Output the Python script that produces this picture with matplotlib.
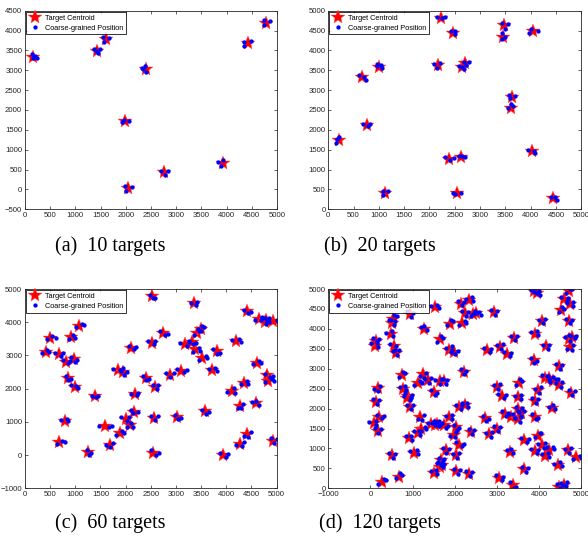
import matplotlib
matplotlib.use("Agg")
import matplotlib.pyplot as plt

# (a) 10 targets: centroids and coarse-grained positions
a_cx = [160, 1420, 1600, 2400, 1990, 2040, 2760, 3920, 4420, 4790]
a_cy = [3330, 3480, 3780, 3030, 1720, 30, 430, 660, 3680, 4200]
a_bx = [130, 200, 230, 150, 1370, 1480, 1450, 1400, 1550, 1670, 1560,
        2320, 2380, 2410, 2350, 1930, 2070, 1960, 1990, 2130, 2010,
        2700, 2840, 2770, 3830, 3930, 3880, 4340, 4480, 4350, 4750, 4870, 4750]
a_by = [3420, 3350, 3310, 3300, 3530, 3530, 3430, 3490, 3830, 3810, 3710,
        3060, 3110, 2950, 3040, 1700, 1720, 1740, 80, 60, -40,
        470, 470, 370, 680, 740, 580, 3720, 3740, 3620, 4260, 4230, 4150]

# (b) 20 targets
b_cx = [220, 760, 660, 1000, 1120, 2160, 2220, 2460, 2380, 2620,
        2540, 2640, 2710, 3480, 3450, 4050, 3630, 3610, 4030, 4450]
b_cy = [1740, 2110, 3320, 3590, 410, 3640, 4820, 4450, 1270, 1310,
        400, 3570, 3690, 4650, 4350, 4480, 2830, 2560, 1460, 290]
b_bx = [180, 220, 160, 690, 830, 790, 610, 710, 740, 960, 1050, 1060, 970,
        1080, 1190, 1090, 2090, 2210, 2140, 2140, 2300, 2250, 2420, 2510, 2510,
        2310, 2480, 2400, 2580, 2700, 2640, 2460, 2620, 2500, 2580, 2650, 2680,
        2680, 2780, 2720, 3440, 3550, 3500, 3430, 3500, 3430, 4000, 4140, 3970,
        3580, 3690, 3590, 3550, 3610, 3650, 3940, 4070, 4080, 4400, 4480, 4510]
b_by = [1770, 1830, 1670, 2150, 2150, 2090, 3370, 3320, 3260, 3670, 3640, 3560, 3620,
        470, 450, 360, 3650, 3680, 3560, 4840, 4850, 4810, 4500, 4500, 4410,
        1320, 1290, 1230, 1340, 1310, 1340, 400, 400, 380, 3620, 3580, 3540,
        3720, 3720, 3640, 4690, 4660, 4550, 4430, 4350, 4290, 4540, 4500, 4450,
        2870, 2860, 2790, 2550, 2650, 2590, 1500, 1480, 1420, 310, 320, 240]

# (c) 60 targets
c_cx = [500, 420, 680, 810, 970, 910, 1070, 850, 990, 800,
        680, 1260, 1390, 1590, 1680, 1880, 1850, 1950, 2000, 2090,
        2160, 2180, 2110, 2400, 2580, 2570, 2550, 2530, 2530, 2750,
        2880, 3090, 3030, 3170, 3380, 3420, 3500, 3350, 3520, 3580,
        3720, 3820, 4110, 4190, 4270, 4350, 4270, 4410, 3930, 4410,
        4580, 4600, 4650, 4760, 4920, 4810, 4830, 4930, 3320, 4780]
c_cy = [3520, 3100, 3040, 2810, 2880, 3560, 3890, 2310, 2040, 1040,
        400, 90, 1780, 880, 290, 670, 2560, 2490, 1100, 910,
        1300, 1840, 3230, 2330, 2060, 1130, 70, 4780, 3380, 3670,
        2420, 2530, 1140, 3340, 3180, 3690, 3810, 4570, 2920, 1320,
        2560, 3120, 1940, 3440, 1470, 2180, 330, 630, 10, 4330,
        1580, 2780, 4100, 4000, 4030, 2410, 2230, 430, 3390, 4080]
# offsets of the coarse-grained positions from each centroid
c_off = [
    [(-60, -30), (40, 60), (110, 0)], [(-90, -40), (20, 60), (60, 0)],
    [(-90, 40), (30, -50), (70, 20)], [(-60, 50), (40, -40), (90, 10)],
    [(-50, 60), (70, -20), (20, -80)], [(-40, -60), (50, 70), (80, -20)],
    [(-60, -40), (60, 60), (110, 20)], [(-40, 80), (60, -30), (0, -60)],
    [(-80, 60), (60, -10), (20, 40)], [(-80, 20), (60, -10), (30, 40)],
    [(-50, -60), (60, 20), (110, 0)], [(-30, 60), (60, -40), (20, -90)],
    [(-60, 10), (70, 0), (30, -40)], [(-120, 10), (80, -30), (140, 10)],
    [(-80, 20), (70, 60), (10, -40)], [(-70, -50), (40, 70), (90, 10)],
    [(-100, 20), (60, -20), (100, 60)], [(-60, 60), (80, 20), (20, -70)],
    [(-90, 50), (60, 40), (30, -60)], [(-60, -50), (60, -60), (20, 60)],
    [(-50, 60), (90, 10), (-20, -40)], [(-80, -10), (70, 40), (40, -40)],
    [(-40, 40), (60, -40), (90, 20)], [(-60, 40), (60, -30), (10, -70)],
    [(-30, 60), (40, -60), (70, 40)], [(-60, 50), (80, 40), (20, -80)],
    [(-50, 70), (60, -70), (110, -20)], [(-50, 50), (60, -40), (10, -60)],
    [(-90, 40), (60, 60), (40, -40)], [(-60, 60), (90, -20), (40, -60)],
    [(-70, 40), (80, 60), (10, -70)], [(-60, 60), (70, -30), (120, 30)],
    [(-40, 60), (60, -20), (10, -60)], [(-100, 40), (40, -70), (80, 50)],
    [(-50, -70), (70, 50), (100, -60)], [(-60, -60), (80, 40), (20, 120)],
    [(-40, -60), (60, 60), (10, 90)], [(-60, 20), (70, 40), (40, -60)],
    [(-60, -70), (80, 70), (100, 10)], [(-60, 40), (80, -30), (20, -80)],
    [(-70, 40), (60, 60), (100, -30)], [(-80, 60), (60, -40), (0, -70)],
    [(-100, -40), (40, 80), (60, -80)], [(-80, 20), (60, 50), (100, -30)],
    [(-40, -40), (60, 60), (20, -60)], [(-50, -50), (70, 60), (90, -30)],
    [(-70, -40), (90, 50), (40, -60)], [(-60, -40), (80, 70), (30, -90)],
    [(-50, 40), (60, -60), (100, 10)], [(-60, 40), (80, -20), (30, -60)],
    [(-60, 30), (70, -60), (10, 60)], [(-70, -40), (40, 60), (90, -20)],
    [(-90, -40), (60, 60), (110, 20)], [(-80, 80), (60, 50), (20, -60)],
    [(-70, -30), (80, 50), (110, -30)], [(-40, 40), (60, -60), (110, -20)],
    [(-60, -40), (80, 50), (120, 0)], [(-40, 70), (80, 60), (20, -70)],
    [(-60, 50), (70, -20), (20, -60)], [(-70, 40), (70, 60), (30, -50)],
]

# (d) 120 targets
d_cx = [110, 170, 140, 80, 210, 170, 270, 510, 670, 480,
        520, 540, 550, 610, 930, 740, 770, 890, 930, 910,
        1040, 1260, 1240, 1360, 1120, 1510, 1180, 1210, 1120, 1440,
        1500, 1520, 1640, 1750, 1640, 1750, 1870, 1640, 1790, 1880,
        1870, 1990, 1970, 2030, 2030, 2040, 2110, 2110, 2210, 2150,
        2240, 2170, 2340, 2510, 2390, 2330, 2770, 2720, 2810, 2930,
        3000, 3110, 3000, 3060, 3080, 3230, 3190, 3340, 3320, 3380,
        3400, 3520, 3510, 3510, 3490, 3650, 3650, 3870, 3900, 3870,
        3980, 3900, 3900, 3970, 3900, 4070, 4160, 4140, 4240, 4140,
        4310, 4340, 4470, 4480, 4440, 4480, 4590, 4520, 4600, 4700,
        4740, 4700, 4700, 4740, 4760, 4880, 4680, 1590, 1680, 4060,
        4240, 870, 3560, 3950, 120, 4780, 2440, 1690, 1520, 2250]
d_cy = [3580, 2520, 2170, 1640, 1790, 1450, 170, 830, 290, 3870,
        4150, 4260, 3560, 3400, 4370, 2840, 2490, 2320, 2050, 1250,
        890, 3990, 2860, 2710, 2630, 2410, 1780, 1500, 1400, 1610,
        380, 4540, 3740, 2680, 2680, 1590, 1790, 530, 950, 4130,
        3480, 3420, 1350, 1540, 830, 430, 1090, 2040, 2910, 4630,
        4390, 4140, 4730, 4390, 1420, 370, 3470, 1760, 1360, 4420,
        2550, 2310, 1500, 270, 3550, 3370, 1870, 1800, 920, 90,
        3760, 2650, 2280, 1980, 1730, 1200, 480, 4950, 3880, 3220,
        2470, 2200, 1800, 1320, 930, 4190, 3560, 2780, 970, 810,
        2020, 2700, 3060, 2600, 590, 40, 80, 4470, 4740, 4950,
        4620, 4200, 3750, 3540, 2400, 780, 950, 1620, 700, 1080,
        2760, 2260, 1890, 4900, 3700, 3800, 4370, 590, 1600, 2080]
d_off = [
    [(-90, 60), (40, 110), (60, -40)], [(-80, -30), (60, 40), (20, -70)],
    [(-70, 60), (60, 40), (10, -60)], [(-110, 20), (60, 60), (40, -50)],
    [(-60, 50), (70, -20), (110, 20)], [(-60, 60), (80, 30), (20, -60)],
    [(-80, -50), (60, 60), (110, 30)], [(-70, 60), (80, 40), (20, -60)],
    [(-60, -40), (80, 50), (20, 90)], [(-100, 30), (40, 80), (60, -50)],
    [(-90, 60), (70, 40), (30, -60)], [(-60, -50), (80, 60), (20, 90)],
    [(-80, 60), (60, 20), (30, -80)], [(-70, 40), (60, 70), (20, -60)],
    [(-60, 70), (70, 30), (40, -60)], [(-60, -50), (80, 50), (30, 70)],
    [(-60, 40), (80, -20), (40, 70)], [(-80, 60), (60, -50), (100, 30)],
    [(-70, 50), (70, 30), (20, -60)], [(-60, 60), (70, -30), (40, 70)],
    [(-110, 40), (60, 60), (90, -30)], [(-70, 50), (70, -20), (20, 80)],
    [(-60, -40), (80, 40), (30, -80)], [(-70, 30), (80, 60), (40, -60)],
    [(-90, -40), (60, 60), (100, 20)], [(-80, 60), (70, -30), (20, -70)],
    [(-60, -40), (80, 50), (40, -70)], [(-70, -50), (80, 40), (110, 0)],
    [(-90, 40), (50, -60), (80, 30)], [(-70, 40), (80, 60), (100, -30)],
    [(-70, 50), (60, 70), (80, -30)], [(-80, 40), (70, 60), (100, -20)],
    [(-60, -60), (80, 40), (30, 80)], [(-80, 60), (60, 40), (30, -70)],
    [(-100, 30), (70, 50), (20, -60)], [(-60, 60), (80, -30), (30, -80)],
    [(-90, 30), (60, -40), (70, 50)], [(-60, 100), (70, 180), (30, 60)],
    [(-70, 60), (80, 40), (10, -70)], [(-60, -40), (80, 60), (30, 90)],
    [(-80, 40), (60, 80), (40, -50)], [(-60, 60), (90, 30), (20, -60)],
    [(-80, -40), (60, 60), (40, -70)], [(-60, 60), (80, -30), (30, -70)],
    [(-70, 40), (70, 60), (20, -70)], [(-60, 50), (80, 30), (40, -60)],
    [(-70, 60), (60, -40), (100, 30)], [(-80, 60), (60, 40), (30, -60)],
    [(-60, 90), (60, 40), (20, -50)], [(-70, 60), (80, 50), (30, -40)],
    [(-60, 70), (80, 40), (20, -60)], [(-60, -50), (70, 60), (100, 10)],
    [(-80, 30), (60, 70), (100, -20)], [(-70, -20), (70, 40), (110, -30)],
    [(-60, 80), (70, 40), (30, -60)], [(-70, 60), (80, 40), (20, -70)],
    [(-80, 50), (60, -40), (100, 20)], [(-60, 60), (80, -20), (30, -70)],
    [(-80, 30), (70, 60), (40, -60)], [(-70, 60), (80, 30), (20, -60)],
    [(-60, 40), (80, 60), (30, -70)], [(-80, 60), (60, -40), (100, 20)],
    [(-60, 70), (70, 50), (30, -60)], [(-80, 60), (60, -50), (90, 20)],
    [(-90, 40), (60, 60), (20, -60)], [(-60, 40), (70, -40), (110, 30)],
    [(-80, 60), (60, 30), (30, -60)], [(-60, 60), (80, -30), (40, 70)],
    [(-80, 40), (60, -30), (20, 70)], [(-70, 70), (60, -60), (20, -90)],
    [(-60, 60), (80, 70), (30, -50)], [(-60, -50), (70, 40), (20, 80)],
    [(-90, 40), (60, -40), (70, 50)], [(-60, 70), (80, 30), (20, -60)],
    [(-70, 30), (60, -60), (80, 50)], [(-80, 50), (60, -40), (100, 30)],
    [(-60, 60), (80, 40), (30, -60)], [(-60, 30), (70, -40), (40, 70)],
    [(-90, 40), (60, 60), (80, -30)], [(-70, 60), (70, -30), (20, -70)],
    [(-80, 30), (60, 60), (20, -70)], [(-70, 60), (80, 30), (30, -60)],
    [(-60, 60), (70, -30), (20, -70)], [(-70, -40), (80, 60), (40, 80)],
    [(-100, 50), (60, -40), (80, 40)], [(-80, 40), (60, 70), (30, -50)],
    [(-60, 40), (80, 30), (40, -60)], [(-70, 60), (80, 40), (100, -30)],
    [(-60, 70), (80, 60), (110, 20)], [(-80, 50), (60, 80), (90, -30)],
    [(-80, 30), (60, -40), (30, 70)], [(-90, -40), (60, 50), (110, 30)],
    [(-60, 60), (80, 40), (30, -60)], [(-70, 50), (60, 70), (30, -60)],
    [(-80, 30), (60, 60), (100, -30)], [(-60, 60), (90, 40), (20, -40)],
    [(-70, 60), (80, 80), (40, -30)], [(-60, -50), (80, 40), (30, 70)],
    [(-70, 60), (60, -40), (90, 40)], [(-60, -60), (80, 40), (30, 60)],
    [(-80, 40), (60, -50), (70, 60)], [(-60, 60), (80, 20), (30, -60)],
    [(-80, 50), (60, 70), (30, -60)], [(-70, -40), (70, 60), (30, -80)],
    [(-60, 60), (80, 40), (20, -70)], [(-70, -50), (80, 40), (110, -10)],
    [(-60, 40), (80, 60), (30, -60)], [(-80, 60), (60, -40), (30, 80)],
    [(-60, 60), (70, 30), (20, -70)], [(-80, 40), (60, -60), (70, 50)],
    [(-60, 50), (80, 30), (20, -60)], [(-70, 60), (60, -40), (90, 30)],
    [(-60, 40), (70, 60), (20, -70)], [(-80, 30), (60, -50), (40, 60)],
    [(-60, 60), (80, 40), (30, -60)], [(-70, 50), (60, -40), (90, 30)],
    [(-60, -50), (70, 40), (30, 70)], [(-80, 60), (60, 30), (20, -60)],
    [(-60, 40), (70, 60), (100, -30)], [(-70, 60), (60, -50), (30, 60)],
]

captions = ["(a)  10 targets", "(b)  20 targets", "(c)  60 targets", "(d)  120 targets"]

TXT = "#262626"
plt.rcParams["font.family"] = ["Liberation Sans", "DejaVu Sans"]


def coarse(cx, cy, off):
    bx, by = [], []
    for x, y, pts in zip(cx, cy, off):
        for dx, dy in pts:
            bx.append(x + dx)
            by.append(y + dy)
    return bx, by


def panel(rect, cx, cy, bx, by, xlim, ylim, xt, yt, caption, cap_xy):
    ax = fig.add_axes(rect)
    ax.plot(cx, cy, linestyle="none", marker="*", ms=10, color="red",
            mec="#ff5050", mew=0.3, label="Target Centroid")
    ax.plot(bx, by, linestyle="none", marker="o", ms=3.1, color="blue",
            mew=0, label="Coarse-grained Position")
    ax.set_xlim(xlim)
    ax.set_ylim(ylim)
    ax.set_xticks(xt)
    ax.set_yticks(yt)
    ax.tick_params(direction="in", length=2.5, width=0.5, labelsize=5.6,
                   colors=TXT, top=True, right=True, pad=2)
    for s in ax.spines.values():
        s.set_linewidth(0.6)
        s.set_color(TXT)
    leg = ax.legend(loc="upper left", fontsize=5.3, frameon=True, fancybox=False,
                    borderaxespad=0.15, handlelength=1.6, handletextpad=0.6,
                    borderpad=0.35, labelspacing=0.4)
    leg.get_frame().set_edgecolor("black")
    leg.get_frame().set_linewidth(0.7)
    fig.text(cap_xy[0], cap_xy[1], caption, ha="center", va="center",
             fontsize=14.5, family=["Liberation Serif", "DejaVu Serif"])
    return ax


fig = plt.figure(figsize=(5.88, 5.40), dpi=100)

panel([0.0425, 0.6124, 0.4286, 0.3678], a_cx, a_cy, a_bx, a_by,
      (0, 5000), (-500, 4500), range(0, 5001, 500), range(-500, 4501, 500),
      captions[0], (0.187, 0.544))
panel([0.5583, 0.6124, 0.4303, 0.3678], b_cx, b_cy, b_bx, b_by,
      (0, 5000), (0, 5000), range(0, 5001, 500), range(0, 5001, 500),
      captions[1], (0.646, 0.544))
cbx, cby = coarse(c_cx, c_cy, c_off)
panel([0.0425, 0.0957, 0.4280, 0.3691], c_cx, c_cy, cbx, cby,
      (0, 5000), (-1000, 5000), range(0, 5001, 500), range(-1000, 5001, 1000),
      captions[2], (0.187, 0.0315))
dbx, dby = coarse(d_cx, d_cy, d_off)
panel([0.5583, 0.0957, 0.4303, 0.3691], d_cx, d_cy, dbx, dby,
      (-1000, 5000), (0, 5000), range(-1000, 5001, 1000), range(0, 5001, 500),
      captions[3], (0.646, 0.0315))

fig.savefig("out.png", dpi=100)
